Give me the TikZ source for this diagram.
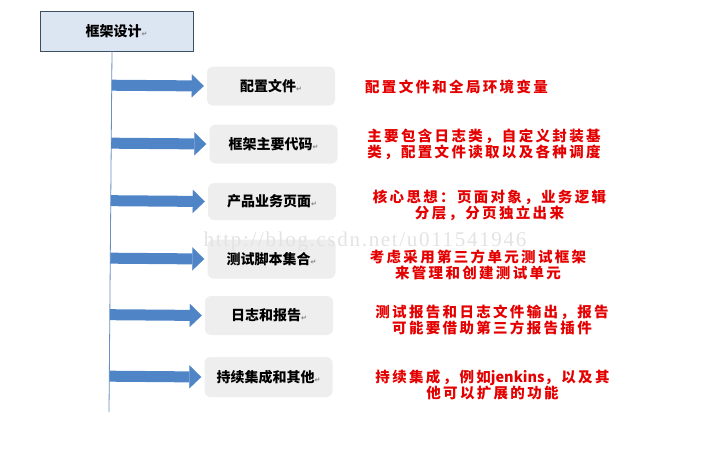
\documentclass[tikz,border=0pt]{standalone}
\usepackage{fontspec}
\usepackage{xcolor}
\setmainfont{Liberation Serif}
\newfontfamily\cjk{Noto Sans CJK SC}
\newfontfamily\cjkred[LetterSpace=16]{Noto Sans CJK SC}
\newfontfamily\symfont{DejaVu Sans}
\newfontfamily\wmfont[LetterSpace=8]{Liberation Serif}
\usetikzlibrary{arrows.meta, calc, positioning}
\definecolor{headfill}{HTML}{DCE6F2}
\definecolor{headline}{HTML}{3F4F63}
\definecolor{itemfill}{HTML}{EEEEEE}
\definecolor{flowblue}{HTML}{4F85C6}
\definecolor{spineblue}{HTML}{6A8FC0}
\definecolor{notered}{RGB}{228,0,0}
\newcommand{\pmark}{{\symfont\color{gray}\fontsize{7}{7}\selectfont ↵}}
\tikzset{
	head/.style = {draw = headline, fill = headfill, minimum width = 153pt, minimum height = 40pt, font = \cjk\bfseries\fontsize{14}{14}\selectfont},
	item/.style = {fill = itemfill, rounded corners = 6pt, minimum width = 128pt, minimum height = 39pt, font = \cjk\bfseries\fontsize{14}{14}\selectfont},
	note/.style = {text = notered, align = center, font = \cjkred\bfseries\fontsize{14.5}{16}\selectfont},
	flow/.style = {draw = flowblue, line width = 11pt, -{Triangle[length = 12pt, width = 23pt, line width = 0.1pt]}, shorten > = 3pt},
	spine/.style = {draw = spineblue, line width = 0.8pt},
	watermark/.style = {text = black!11, font = \wmfont\fontsize{21}{21}\selectfont}
}

\begin{document}
\begin{tikzpicture}[x = 1pt, y = -1pt]
		\useasboundingbox (0, 0) rectangle (722, 469);
		\node [head] (frame) at (116.5, 31) {框架设计\pmark};
		\coordinate (s0) at (112, 51);
		\coordinate (s1) at (109, 412);
		\draw [spine] (s0) -- (s1);

		\node [item] (conf) at (271, 86) {配置文件\pmark};
		\node [item] (core) at (273.5, 144) {框架主要代码\pmark};
		\node [item, minimum height = 37pt] (page) at (272, 201.5) {产品业务页面\pmark};
		\node [item] (case) at (271.5, 259) {测试脚本集合\pmark};
		\node [item] (log) at (269, 315.5) {日志和报告\pmark};
		\node [item, minimum height = 40pt] (ci) at (268.5, 377) {持续集成和其他\pmark};

		\foreach \n in {conf, core, page, case, log, ci} {
			\coordinate (\n-root) at ($(s0)!(\n.west)!(s1)$);
			\draw [flow] (\n-root) -- (\n.west);
		}

		\node [note] (conf-note) at (456.5, 87) {配置文件和全局环境变量};
		\node [note] (core-note) at (484, 144) {主要包含日志类，自定义封装基\\类，配置文件读取以及各种调度};
		\node [note] (page-note) at (489.5, 205) {核心思想：页面对象，业务逻辑\\分层，分页独立出来};
		\node [note] (case-note) at (478, 265) {考虑采用第三方单元测试框架\\来管理和创建测试单元};
		\node [note] (log-note) at (492, 320) {测试报告和日志文件输出，报告\\可能要借助第三方报告插件};
		\node [note] (ci-note) at (492.5, 385) {持续集成，例如{\cjk jenkins}，以及其\\他可以扩展的功能};

		\node [watermark] (wm) at (365, 241) {http://blog.csdn.net/u011541946};
	\end{tikzpicture}
\end{document}
